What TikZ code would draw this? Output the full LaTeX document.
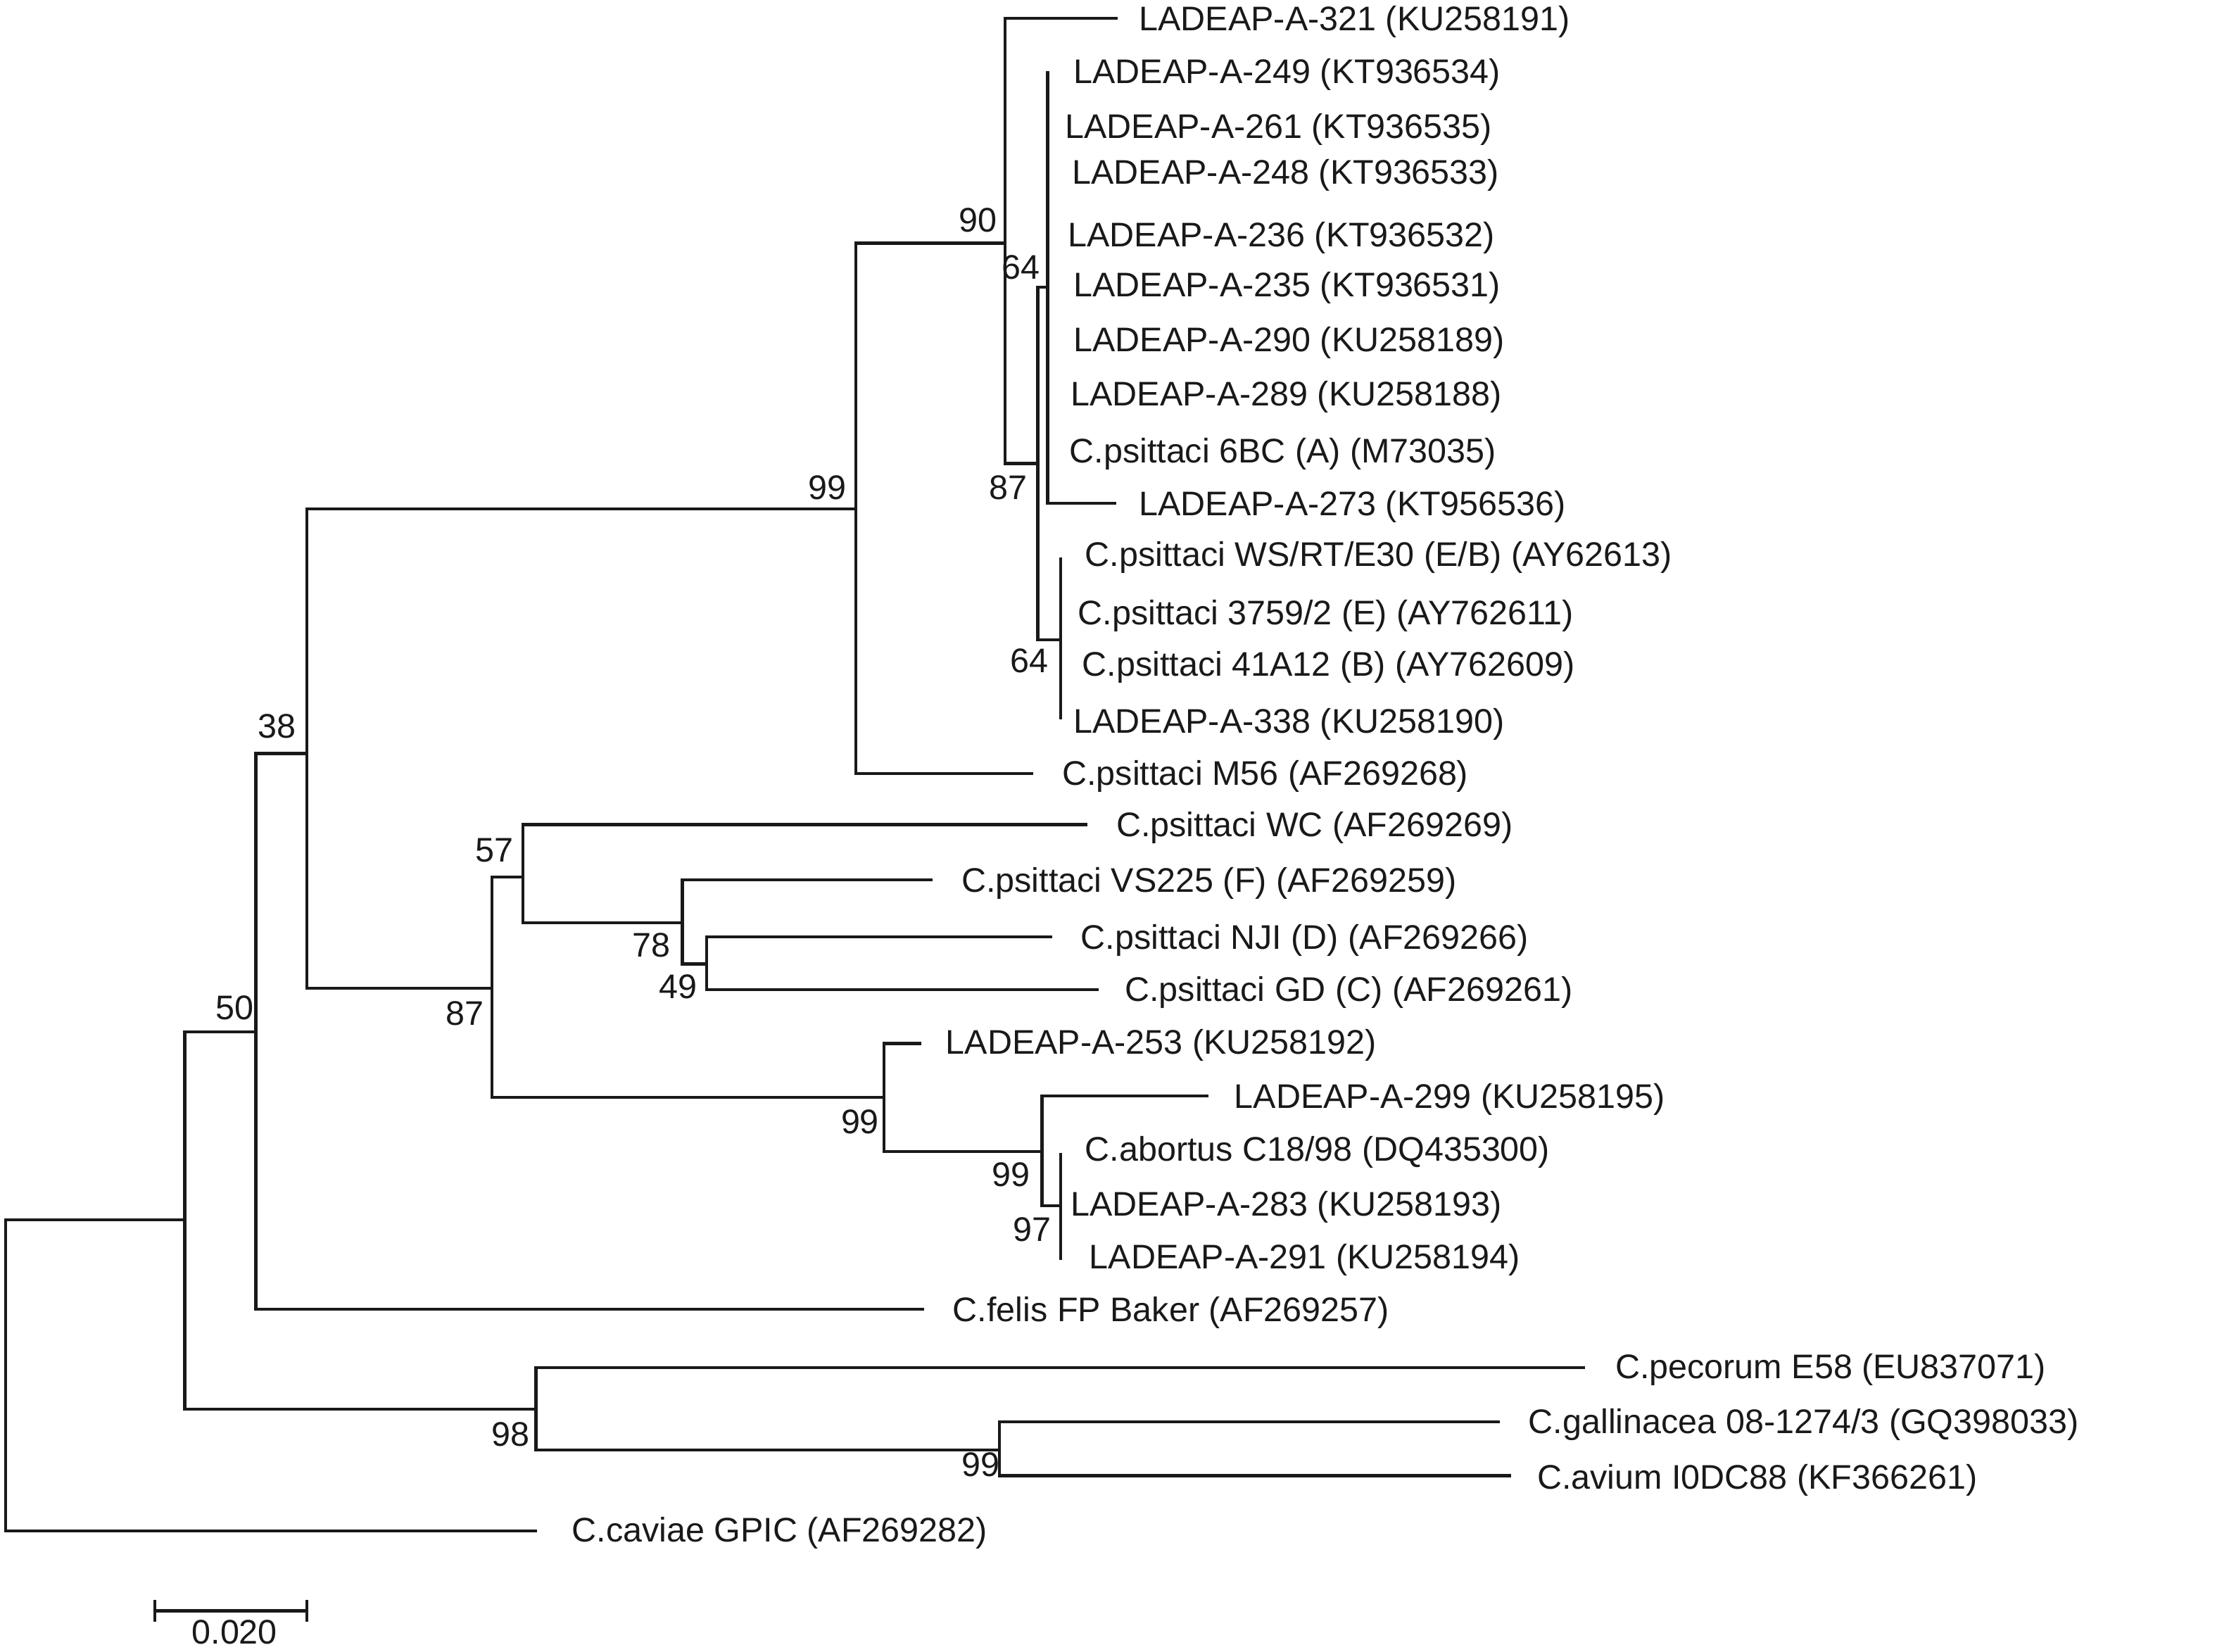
\documentclass[tikz,border=0pt]{standalone}
\usepackage{fontspec}
\setmainfont{Liberation Sans}
\newcommand{\fs}{\fontsize{13.8pt}{16pt}\selectfont}
\begin{document}
\begin{tikzpicture}[x=0.020198cm, y=-0.020198cm,
  branch/.style={line width=1.2pt, line join=miter, black!90},
  leaf/.style={anchor=west, inner sep=0pt, font=\fs, text=black!90, yshift=-1.3pt},
  boot/.style={inner sep=0pt, font=\fs, text=black!90}]
\useasboundingbox (0,0) rectangle (1568,1162);
% internal nodes
\coordinate (r) at (4,967);
\coordinate (n1) at (130,858);
\coordinate (n50) at (180,726);
\coordinate (n38) at (216,530);
\coordinate (n99a) at (602,358);
\coordinate (n90) at (707,171);
\coordinate (n87a) at (730,326);
\coordinate (n64a) at (737,202);
\coordinate (n64b) at (746,450);
\coordinate (n87b) at (346,695);
\coordinate (n57) at (368,617);
\coordinate (n78) at (480,649);
\coordinate (n49) at (497,678);
\coordinate (n99b) at (622,772);
\coordinate (n99c) at (733,810);
\coordinate (n97) at (746,848);
\coordinate (n98) at (377,991);
\coordinate (n99d) at (703,1020);
% leaves
\coordinate (l321) at (786,13);
\coordinate (l249) at (737,50);
\coordinate (l261) at (737,89);
\coordinate (l248) at (737,121);
\coordinate (l236) at (737,165);
\coordinate (l235) at (737,200);
\coordinate (l290) at (737,239);
\coordinate (l289) at (737,277);
\coordinate (l6bc) at (737,317);
\coordinate (l273) at (785,354);
\coordinate (lws) at (746,392);
\coordinate (l3759) at (746,431);
\coordinate (l41a) at (746,467);
\coordinate (l338) at (746,506);
\coordinate (lm56) at (727,544);
\coordinate (lwc) at (765,580);
\coordinate (lvs) at (656,619);
\coordinate (lnji) at (740,659);
\coordinate (lgd) at (773,696);
\coordinate (l253) at (648,734);
\coordinate (l299) at (850,771);
\coordinate (labo) at (746,811);
\coordinate (l283) at (746,848);
\coordinate (l291) at (746,886);
\coordinate (lfelis) at (650,921);
\coordinate (lpec) at (1115,962);
\coordinate (lgal) at (1055,1000);
\coordinate (lavi) at (1063,1038);
\coordinate (lcav) at (378,1077);
% branches
\draw[branch] (r) |- (n1);
\draw[branch] (r) |- (lcav);
\draw[branch] (n1) |- (n50);
\draw[branch] (n1) |- (n98);
\draw[branch] (n50) |- (n38);
\draw[branch] (n50) |- (lfelis);
\draw[branch] (n38) |- (n99a);
\draw[branch] (n38) |- (n87b);
\draw[branch] (n99a) |- (n90);
\draw[branch] (n99a) |- (lm56);
\draw[branch] (n90) |- (l321);
\draw[branch] (n90) |- (n87a);
\draw[branch] (n87a) |- (n64a);
\draw[branch] (n87a) |- (n64b);
\foreach \c in {l249,l261,l248,l236,l235,l290,l289,l6bc,l273}
  \draw[branch] (n64a) |- (\c);
\foreach \c in {lws,l3759,l41a,l338}
  \draw[branch] (n64b) |- (\c);
\draw[branch] (n87b) |- (n57);
\draw[branch] (n87b) |- (n99b);
\draw[branch] (n57) |- (lwc);
\draw[branch] (n57) |- (n78);
\draw[branch] (n78) |- (lvs);
\draw[branch] (n78) |- (n49);
\draw[branch] (n49) |- (lnji);
\draw[branch] (n49) |- (lgd);
\draw[branch] (n99b) |- (l253);
\draw[branch] (n99b) |- (n99c);
\draw[branch] (n99c) |- (l299);
\draw[branch] (n99c) |- (n97);
\foreach \c in {labo,l283,l291}
  \draw[branch] (n97) |- (\c);
\draw[branch] (n98) |- (lpec);
\draw[branch] (n98) |- (n99d);
\draw[branch] (n99d) |- (lgal);
\draw[branch] (n99d) |- (lavi);
% leaf labels
\node[leaf] (t321) at (801,13) {LADEAP-A-321 (KU258191)};
\node[leaf] (t249) at (755,50) {LADEAP-A-249 (KT936534)};
\node[leaf] (t261) at (749,89) {LADEAP-A-261 (KT936535)};
\node[leaf] (t248) at (754,121) {LADEAP-A-248 (KT936533)};
\node[leaf] (t236) at (751,165) {LADEAP-A-236 (KT936532)};
\node[leaf] (t235) at (755,200) {LADEAP-A-235 (KT936531)};
\node[leaf] (t290) at (755,239) {LADEAP-A-290 (KU258189)};
\node[leaf] (t289) at (753,277) {LADEAP-A-289 (KU258188)};
\node[leaf] (t6bc) at (752,317) {C.psittaci 6BC (A) (M73035)};
\node[leaf] (t273) at (801,354) {LADEAP-A-273 (KT956536)};
\node[leaf] (tws) at (763,390) {C.psittaci WS/RT/E30 (E/B) (AY62613)};
\node[leaf] (t3759) at (758,431) {C.psittaci 3759/2 (E) (AY762611)};
\node[leaf] (t41a) at (761,467) {C.psittaci 41A12 (B) (AY762609)};
\node[leaf] (t338) at (755,507) {LADEAP-A-338 (KU258190)};
\node[leaf] (tm56) at (747,544) {C.psittaci M56 (AF269268)};
\node[leaf] (twc) at (785,580) {C.psittaci WC (AF269269)};
\node[leaf] (tvs) at (676,619) {C.psittaci VS225 (F) (AF269259)};
\node[leaf] (tnji) at (760,659) {C.psittaci NJI (D) (AF269266)};
\node[leaf] (tgd) at (791,696) {C.psittaci GD (C) (AF269261)};
\node[leaf] (t253) at (665,733) {LADEAP-A-253 (KU258192)};
\node[leaf] (t299) at (868,771) {LADEAP-A-299 (KU258195)};
\node[leaf] (tabo) at (763,808) {C.abortus C18/98 (DQ435300)};
\node[leaf] (t283) at (753,847) {LADEAP-A-283 (KU258193)};
\node[leaf] (t291) at (766,884) {LADEAP-A-291 (KU258194)};
\node[leaf] (tfelis) at (670,921) {C.felis FP Baker (AF269257)};
\node[leaf] (tpec) at (1136,961) {C.pecorum E58 (EU837071)};
\node[leaf] (tgal) at (1075,1000) {C.gallinacea 08-1274/3 (GQ398033)};
\node[leaf] (tavi) at (1081,1039) {C.avium I0DC88 (KF366261)};
\node[leaf] (tcav) at (402,1076) {C.caviae GPIC (AF269282)};
% bootstrap values
\node[boot] (b90) at (688,155) {90};
\node[boot] (b64a) at (718,188) {64};
\node[boot] (b87a) at (709,343) {87};
\node[boot] (b99a) at (582,343) {99};
\node[boot] (b64b) at (724,465) {64};
\node[boot] (b38) at (195,511) {38};
\node[boot] (b57) at (348,598) {57};
\node[boot] (b78) at (458,665) {78};
\node[boot] (b49) at (477,694) {49};
\node[boot] (b87b) at (327,713) {87};
\node[boot] (b50) at (165,709) {50};
\node[boot] (b99b) at (605,789) {99};
\node[boot] (b99c) at (711,826) {99};
\node[boot] (b97) at (726,865) {97};
\node[boot] (b98) at (359,1009) {98};
\node[boot] (b99d) at (690,1030) {99};
% scale bar
\coordinate (sbL) at (109,1133);
\coordinate (sbR) at (216,1133);
\draw[branch] (sbL) -- (sbR);
\draw[branch] (sbL) ++(0,-7.5) -- ++(0,15);
\draw[branch] (sbR) ++(0,-7.5) -- ++(0,15);
\node[boot] (sbt) at (165,1148) {0.020};
\end{tikzpicture}
\end{document}
